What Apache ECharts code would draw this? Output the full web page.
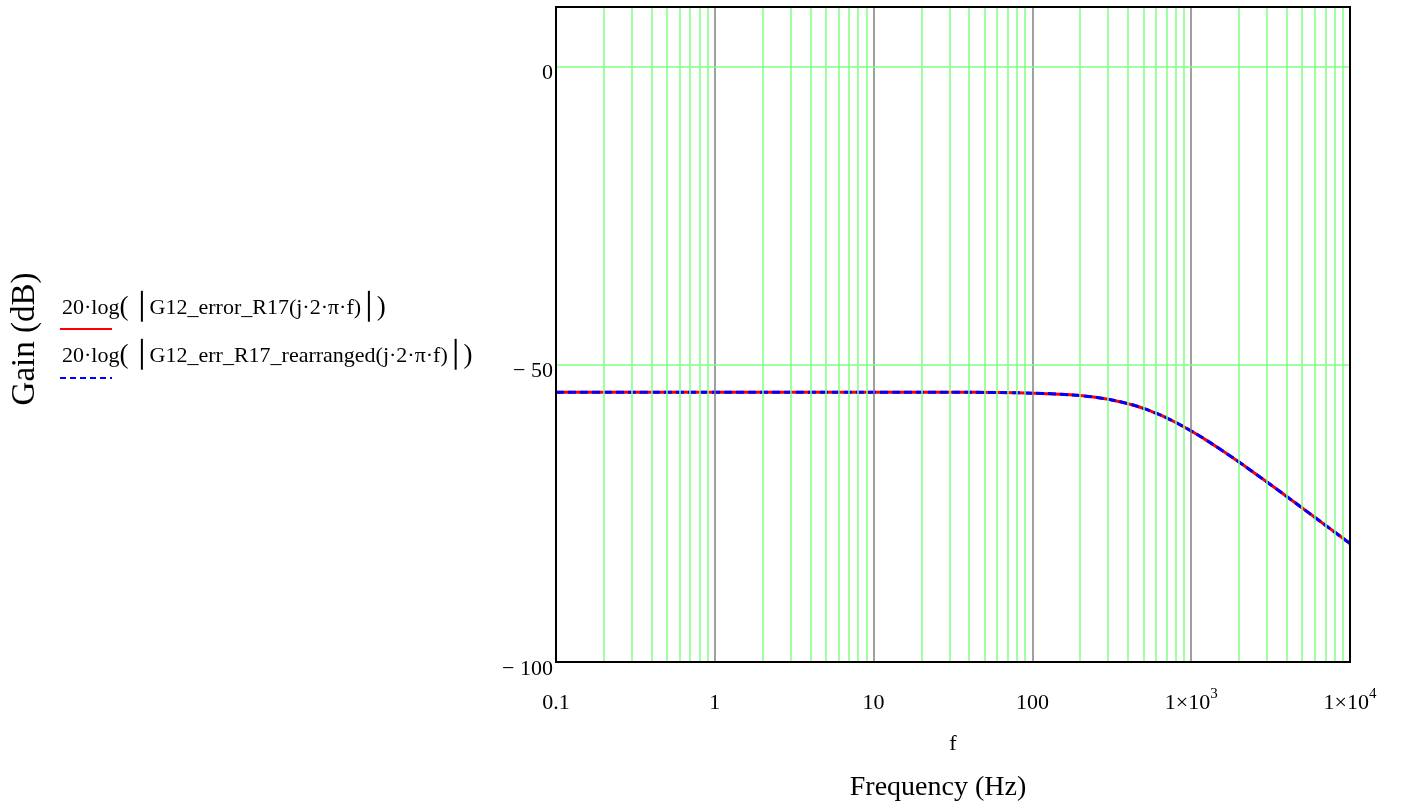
<!DOCTYPE html>
<html>
<head>
<meta charset="utf-8">
<script src="https://cdn.jsdelivr.net/npm/echarts@6/dist/echarts.min.js"></script>
<style>
  html, body { margin: 0; padding: 0; background: #fff; }
  #chart { width: 1402px; height: 810px; }
</style>
</head>
<body>
<div id="chart"></div>
<script>
// values
const freq = [0.1, 1, 10, 30, 60, 100, 150, 200, 250, 300, 400, 500, 600, 700, 800,
  1000, 1200, 1500, 2000, 2500, 3000, 4000, 5000, 6000, 7000, 8000, 10000];
const gainError = [-54.7, -54.7, -54.7, -54.71, -54.75, -54.85, -55.03, -55.26, -55.55, -55.88,
  -56.62, -57.41, -58.22, -59.01, -59.78, -61.2, -62.48, -64.15, -66.42, -68.26, -69.78,
  -72.22, -74.13, -75.7, -77.03, -78.18, -80.11];
const gainRearranged = [-54.7, -54.7, -54.7, -54.71, -54.75, -54.85, -55.03, -55.26, -55.55, -55.88,
  -56.62, -57.41, -58.22, -59.01, -59.78, -61.2, -62.48, -64.15, -66.42, -68.26, -69.78,
  -72.22, -74.13, -75.7, -77.03, -78.18, -80.11];
const yTicks = [-100, -50, 0];
const majorGrid = [1, 10, 100, 1000];
const minorGrid = [0.1, 1, 10, 100, 1000].flatMap(d => [2, 3, 4, 5, 6, 7, 8, 9].map(k => k * d));
const hGrid = [0, -50];

const legendNames = ['G12_error_R17', 'G12_err_R17_rearranged'];

const FONT = '"Liberation Serif", "DejaVu Serif", serif';

// mathcad style legend label with bigger parens and bars
function legendRich(name) {
  return '{t|20·log}{p|(}{t| }{b|│}{t|' + name + '(j·2·π·f)}{b|│}{p|)}';
}
const legendStyles = {
  t: { fontFamily: FONT, fontSize: 22, fill: '#000' },
  p: { fontFamily: FONT, fontSize: 27, fill: '#000' },
  b: { fontFamily: 'DejaVu Sans', fontSize: 26, fontWeight: 'bold', fill: '#000' }
};

let myChart = echarts.init(document.getElementById('chart'));

let option = {
  animation: false,
  textStyle: { fontFamily: FONT },
  grid: {
    left: 556, right: 52, top: 7, bottom: 148,
    show: true, z: 10,
    borderColor: '#000', borderWidth: 2,
    backgroundColor: 'transparent'
  },
  xAxis: {
    type: 'log',
    logBase: 10,
    min: 0.1,
    max: 10000,
    name: 'f',
    nameLocation: 'middle',
    nameGap: 71,
    nameTextStyle: { fontFamily: FONT, fontSize: 22, color: '#000' },
    axisLine: { show: false },
    axisTick: { show: false },
    splitLine: { show: false },
    axisLabel: {
      margin: 22,
      color: '#000',
      fontFamily: FONT,
      fontSize: 22,
      formatter: function (v) {
        if (v >= 1000) {
          return '{a|1×10}{s|' + Math.round(Math.log10(v)) + '}';
        }
        return '{a|' + v + '}';
      },
      rich: {
        a: { fontFamily: FONT, fontSize: 22, color: '#000', padding: [8, 0, 0, 0] },
        s: { fontFamily: FONT, fontSize: 15, color: '#000', padding: [0, 0, 10, 0] }
      }
    }
  },
  yAxis: {
    type: 'value',
    min: -100,
    max: 10,
    interval: 50,
    axisLine: { show: false },
    axisTick: { show: false },
    splitLine: { show: false },
    axisLabel: {
      margin: 3,
      color: '#000',
      fontFamily: FONT,
      fontSize: 22,
      formatter: function (v) {
        if (yTicks.indexOf(v) < 0) return '';
        return '{v|' + (v < 0 ? '− ' + Math.abs(v) : String(v)) + '}';
      },
      rich: {
        v: { fontFamily: FONT, fontSize: 22, color: '#000', padding: [14, 0, 0, 0] }
      }
    }
  },
  graphic: [
    {
      type: 'text', x: 25, y: 339, rotation: Math.PI / 2,
      style: { text: 'Gain (dB)', fontFamily: FONT, fontSize: 33, fill: '#000', align: 'center', verticalAlign: 'middle' }
    },
    {
      type: 'text', x: 938, y: 788,
      style: { text: 'Frequency (Hz)', fontFamily: FONT, fontSize: 28, fill: '#000', align: 'center', verticalAlign: 'middle' }
    },
    {
      type: 'text', x: 62, y: 308,
      style: { text: legendRich(legendNames[0]), rich: legendStyles, align: 'left', verticalAlign: 'middle' }
    },
    {
      type: 'text', x: 62, y: 356,
      style: { text: legendRich(legendNames[1]), rich: legendStyles, align: 'left', verticalAlign: 'middle' }
    },
    {
      type: 'line', shape: { x1: 60, y1: 329, x2: 112, y2: 329 },
      style: { stroke: '#ff0000', lineWidth: 2 }
    },
    {
      type: 'line', shape: { x1: 60, y1: 378, x2: 112, y2: 378 },
      style: { stroke: '#0000ff', lineWidth: 2, lineDash: [6, 4] }
    }
  ],
  series: [
    {
      name: 'grid',
      type: 'line',
      data: [],
      z: 1,
      silent: true,
      markLine: {
        silent: true,
        symbol: 'none',
        label: { show: false },
        animation: false,
        data: minorGrid.map(v => ({ xAxis: v, lineStyle: { color: '#80ff80', width: 1.5, type: 'solid' } }))
          .concat(majorGrid.map(v => ({ xAxis: v, lineStyle: { color: '#808080', width: 1.5, type: 'solid' } })))
          .concat(hGrid.map(v => ({ yAxis: v, lineStyle: { color: '#80ff80', width: 1.5, type: 'solid' } })))
      }
    },
    {
      name: legendNames[0],
      type: 'line',
      z: 3,
      symbol: 'none',
      smooth: true,
      lineStyle: { color: '#ff0000', width: 3 },
      data: freq.map((f, i) => [f, gainError[i]])
    },
    {
      name: legendNames[1],
      type: 'line',
      z: 4,
      symbol: 'none',
      smooth: true,
      lineStyle: { color: '#0000ff', width: 3, type: [8, 4] },
      data: freq.map((f, i) => [f, gainRearranged[i]])
    }
  ]
};

myChart.setOption(option);
</script>
</body>
</html>
